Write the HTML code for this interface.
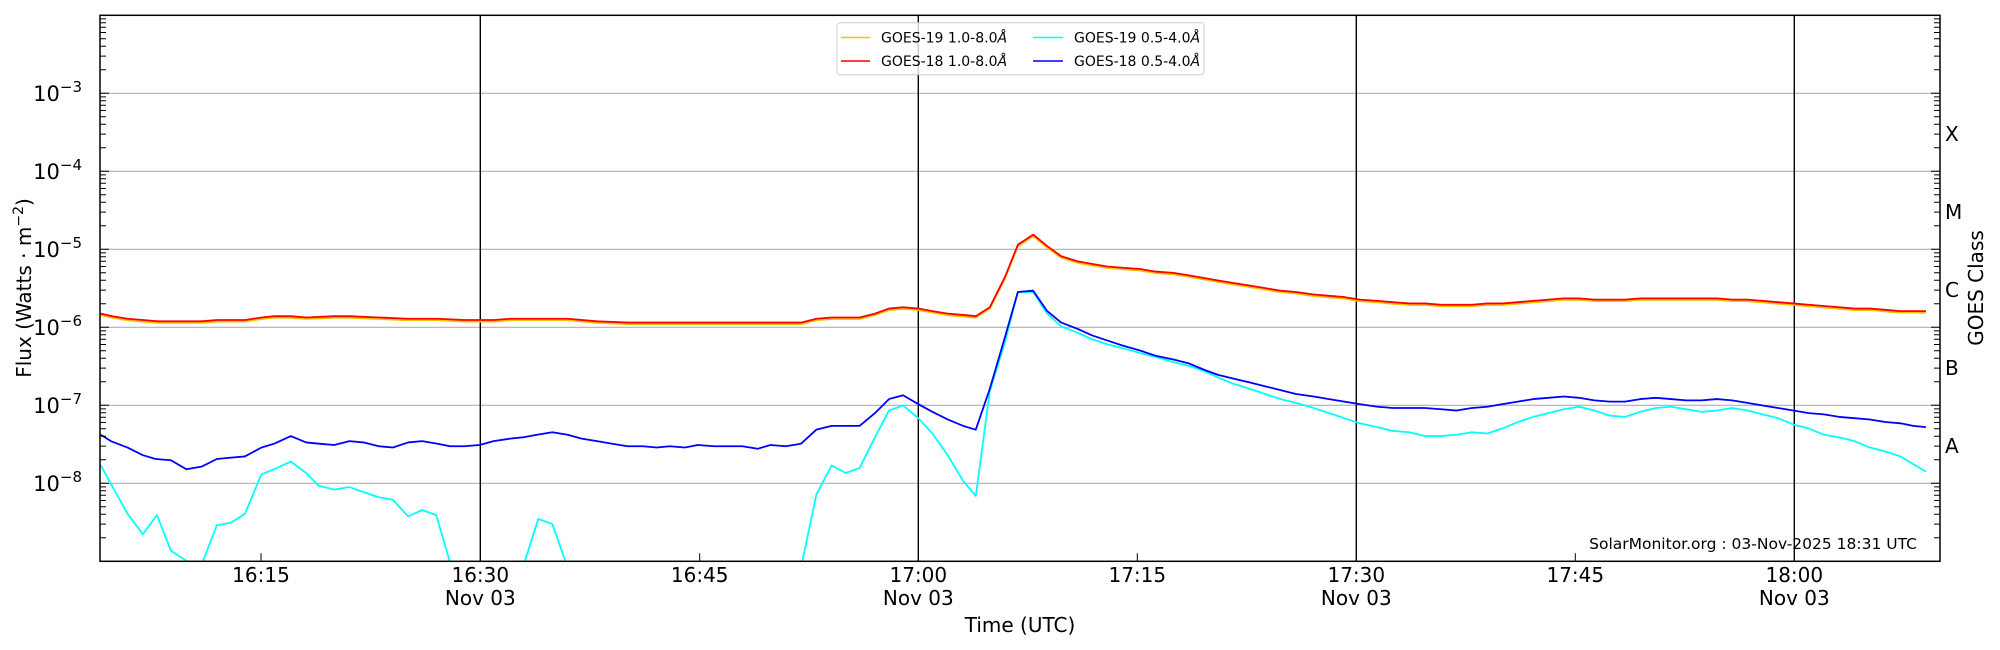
<!DOCTYPE html>
<html><head><meta charset="utf-8"><style>
html,body{margin:0;padding:0;background:#fff;}
svg{display:block;font-family:"DejaVu Sans","Liberation Sans",sans-serif;}
</style></head><body>
<svg width="2000" height="650" viewBox="0 0 2000 650" xmlns="http://www.w3.org/2000/svg">
<defs><clipPath id="c"><rect x="100" y="15.3" width="1840" height="546"/></clipPath></defs>
<rect width="2000" height="650" fill="#fff"/>
<g stroke="#b0b0b0" stroke-width="1.2">
<line x1="100" x2="1940" y1="93.3" y2="93.3"/>
<line x1="100" x2="1940" y1="171.3" y2="171.3"/>
<line x1="100" x2="1940" y1="249.3" y2="249.3"/>
<line x1="100" x2="1940" y1="327.3" y2="327.3"/>
<line x1="100" x2="1940" y1="405.3" y2="405.3"/>
<line x1="100" x2="1940" y1="483.3" y2="483.3"/>
</g>
<g stroke="#000" stroke-width="1.4">
<line x1="480.3" x2="480.3" y1="15.3" y2="561.3"/>
<line x1="918.3" x2="918.3" y1="15.3" y2="561.3"/>
<line x1="1356.3" x2="1356.3" y1="15.3" y2="561.3"/>
<line x1="1794.3" x2="1794.3" y1="15.3" y2="561.3"/>
</g>
<g clip-path="url(#c)" fill="none" stroke-linejoin="round">
<g transform="scale(1.2755,1.275)">
<polyline stroke="#00ffff" stroke-width="1.4" points="79,365 90,385 100,403 112,419 123,404 134,432 148,441 158,443 170,412 181,410 192,403 205,372 215,368 228,362 240,371 250,381 262,384 274,382 285,386 297,390 308,392 320,405 331,400 342,404 354,445 410,445 422,407 433,411 445,445 628,445 640,388 652,365 663,371 674,367 686,343 697,322 708,318 720,328 731,340 743,357 755,377 765,389 776,307 788,268 798,229 810,229 821,246 832,256 845,261 856,266 868,270 880,273 894,277 906,280 920,284 932,287 944,291 955,296 967,301 980,305 992,309 1004,313 1016,316 1030,320 1042,324 1054,328 1066,332 1080,335 1092,338 1105,339 1117,342 1130,342 1142,341 1154,339 1166,340 1178,336 1190,331 1202,327 1214,324 1226,321 1238,319 1250,322 1262,326 1274,327 1286,323 1298,320 1310,319 1322,321 1334,323 1346,322 1358,320 1370,322 1382,325 1394,328 1406,333 1418,336 1430,341 1442,343 1454,346 1466,351 1478,354 1490,358 1500,364 1510,370"/>
<polyline stroke="#0000ff" stroke-width="1.4" points="79,341 87,346 100,351 112,357 122,360 134,361 146,368 158,366 170,360 180,359 192,358 205,351 215,348 228,342 240,347 250,348 262,349 274,346 285,347 297,350 308,351 320,347 331,346 343,348 353,350 364,350 376,349 387,346 400,344 410,343 421,341 433,339 445,341 456,344 468,346 480,348 492,350 504,350 515,351 525,350 537,351 547,349 560,350 571,350 582,350 594,352 604,349 616,350 628,348 640,337 652,334 674,334 686,324 697,313 708,310 720,317 731,323 743,329 755,334 765,337 776,305 788,264 798,229 810,228 821,244 832,253 845,258 856,263 868,267 880,271 894,275 906,279 920,282 932,285 944,290 955,294 967,297 980,300 992,303 1004,306 1016,309 1030,311 1042,313 1054,315 1066,317 1080,319 1092,320 1105,320 1117,320 1130,321 1142,322 1154,320 1166,319 1178,317 1190,315 1202,313 1214,312 1226,311 1238,312 1250,314 1262,315 1274,315 1286,313 1298,312 1310,313 1322,314 1334,314 1346,313 1358,314 1370,316 1382,318 1394,320 1406,322 1418,324 1430,325 1442,327 1454,328 1466,329 1478,331 1490,332 1500,334 1510,335"/>
<polyline stroke="#ffc000" stroke-width="1.4" transform="translate(0,1.2)" points="79,246 88,248 100,250 112,251 124,252 134,252 146,252 158,252 170,251 180,251 192,251 205,249 215,248 228,248 240,249 262,248 274,248 297,249 320,250 343,250 364,251 376,251 387,251 400,250 421,250 445,250 468,252 492,253 515,253 537,253 560,253 594,253 616,253 628,253 640,250 652,249 674,249 686,246 697,242 708,241 720,242 731,244 743,246 755,247 765,248 776,241 788,217 798,192 810,184 821,193 832,201 845,205 856,207 868,209 880,210 894,211 906,213 920,214 932,216 944,218 955,220 967,222 980,224 992,226 1004,228 1016,229 1030,231 1042,232 1054,233 1066,235 1080,236 1092,237 1105,238 1117,238 1130,239 1142,239 1154,239 1166,238 1178,238 1190,237 1202,236 1214,235 1226,234 1238,234 1250,235 1262,235 1274,235 1286,234 1298,234 1310,234 1322,234 1334,234 1346,234 1358,235 1370,235 1382,236 1394,237 1406,238 1418,239 1430,240 1442,241 1454,242 1466,242 1478,243 1490,244 1500,244 1510,244"/>
<polyline stroke="#ff0000" stroke-width="1.4" points="79,246 88,248 100,250 112,251 124,252 134,252 146,252 158,252 170,251 180,251 192,251 205,249 215,248 228,248 240,249 262,248 274,248 297,249 320,250 343,250 364,251 376,251 387,251 400,250 421,250 445,250 468,252 492,253 515,253 537,253 560,253 594,253 616,253 628,253 640,250 652,249 674,249 686,246 697,242 708,241 720,242 731,244 743,246 755,247 765,248 776,241 788,217 798,192 810,184 821,193 832,201 845,205 856,207 868,209 880,210 894,211 906,213 920,214 932,216 944,218 955,220 967,222 980,224 992,226 1004,228 1016,229 1030,231 1042,232 1054,233 1066,235 1080,236 1092,237 1105,238 1117,238 1130,239 1142,239 1154,239 1166,238 1178,238 1190,237 1202,236 1214,235 1226,234 1238,234 1250,235 1262,235 1274,235 1286,234 1298,234 1310,234 1322,234 1334,234 1346,234 1358,235 1370,235 1382,236 1394,237 1406,238 1418,239 1430,240 1442,241 1454,242 1466,242 1478,243 1490,244 1500,244 1510,244"/>
</g></g>
<g stroke="#000" stroke-width="1">
<path d="M100,93.3h9M100,171.3h9M100,249.3h9M100,327.3h9M100,405.3h9M100,483.3h9M1940,93.3h-9M1940,171.3h-9M1940,249.3h-9M1940,327.3h-9M1940,405.3h-9M1940,483.3h-9"/>
<path id="mt" d="M100,537.8h6M100,524.1h6M100,514.3h6M100,506.7h6M100,500.5h6M100,495.3h6M100,490.8h6M100,486.9h6M1940,537.8h-6M1940,524.1h-6M1940,514.3h-6M1940,506.7h-6M1940,500.5h-6M1940,495.3h-6M1940,490.8h-6M1940,486.9h-6"/>
<use href="#mt" transform="translate(0,-78)"/><use href="#mt" transform="translate(0,-156)"/><use href="#mt" transform="translate(0,-234)"/><use href="#mt" transform="translate(0,-312)"/><use href="#mt" transform="translate(0,-390)"/><use href="#mt" transform="translate(0,-468)"/>
<path d="M261,561.3v-8M699.7,561.3v-8M1137.3,561.3v-8M1575.3,561.3v-8"/>
</g>
<rect x="100" y="15.3" width="1840" height="546" fill="none" stroke="#000" stroke-width="1.5"/>
<g font-size="21" text-anchor="end" fill="#000">
<text x="82" y="101">10<tspan font-size="15" dy="-9">−3</tspan></text>
<text x="82" y="179">10<tspan font-size="15" dy="-9">−4</tspan></text>
<text x="82" y="257">10<tspan font-size="15" dy="-9">−5</tspan></text>
<text x="82" y="335">10<tspan font-size="15" dy="-9">−6</tspan></text>
<text x="82" y="413">10<tspan font-size="15" dy="-9">−7</tspan></text>
<text x="82" y="491">10<tspan font-size="15" dy="-9">−8</tspan></text>
</g>
<text transform="translate(31,288) rotate(-90)" font-size="20" text-anchor="middle">Flux (Watts · m<tspan font-size="14" dy="-8">−2</tspan><tspan dy="8">)</tspan></text>
<g font-size="20" fill="#000">
<text x="1945" y="141">X</text><text x="1945" y="219">M</text><text x="1945" y="297">C</text><text x="1945" y="375">B</text><text x="1945" y="453">A</text>
</g>
<text transform="translate(1983,288) rotate(-90)" font-size="20" text-anchor="middle">GOES Class</text>
<g font-size="20" text-anchor="middle">
<text x="261" y="582">16:15</text>
<text x="480.3" y="582">16:30</text><text x="480.3" y="605">Nov 03</text>
<text x="699.7" y="582">16:45</text>
<text x="918.3" y="582">17:00</text><text x="918.3" y="605">Nov 03</text>
<text x="1137.3" y="582">17:15</text>
<text x="1356.3" y="582">17:30</text><text x="1356.3" y="605">Nov 03</text>
<text x="1575.3" y="582">17:45</text>
<text x="1794.3" y="582">18:00</text><text x="1794.3" y="605">Nov 03</text>
<text x="1020" y="632">Time (UTC)</text>
</g>
<text x="1917" y="549" font-size="15.5" text-anchor="end">SolarMonitor.org : 03-Nov-2025 18:31 UTC</text>
<rect x="837" y="22.7" width="367" height="52" rx="3" fill="#fff" fill-opacity="0.8" stroke="#ccc" stroke-width="1"/>
<g stroke-width="1.5">
<line x1="841" x2="870" y1="37.5" y2="37.5" stroke="#ffc000"/>
<line x1="841" x2="870" y1="61" y2="61" stroke="#ff0000"/>
<line x1="1033" x2="1063" y1="37.5" y2="37.5" stroke="#00ffff"/>
<line x1="1033" x2="1063" y1="61" y2="61" stroke="#0000ff"/>
</g>
<g font-size="14">
<text x="881" y="42.5">GOES-19 1.0-8.0<tspan font-style="italic">Å</tspan></text>
<text x="881" y="66">GOES-18 1.0-8.0<tspan font-style="italic">Å</tspan></text>
<text x="1074" y="42.5">GOES-19 0.5-4.0<tspan font-style="italic">Å</tspan></text>
<text x="1074" y="66">GOES-18 0.5-4.0<tspan font-style="italic">Å</tspan></text>
</g>
</svg>
</body></html>
